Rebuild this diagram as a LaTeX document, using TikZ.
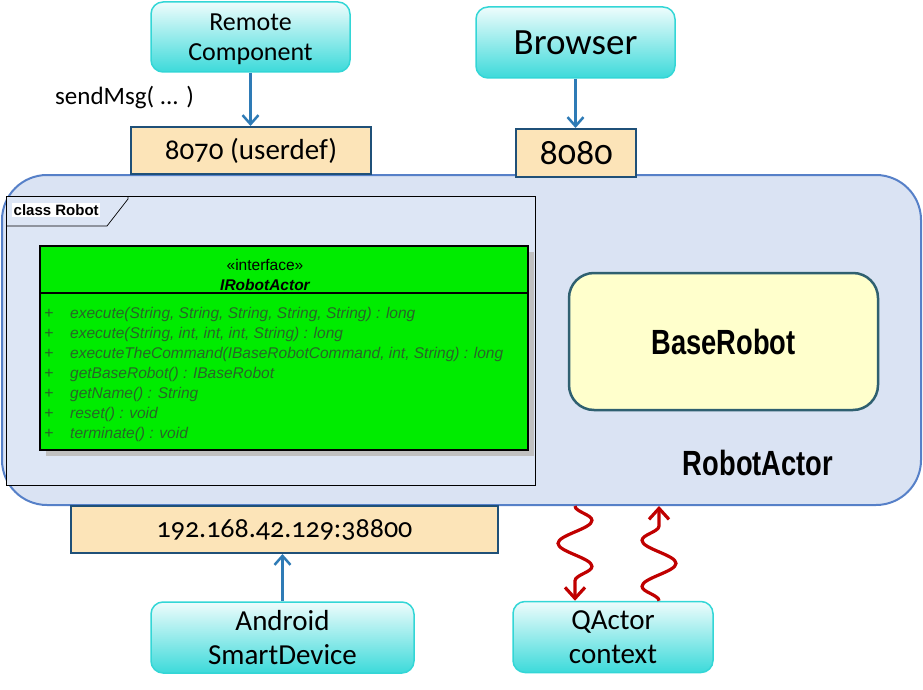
\documentclass[tikz,border=0pt]{standalone}
\usepackage{fontspec}
\setmainfont{Carlito}[Numbers=OldStyle]
\newfontfamily\umlfont{Liberation Sans}
\newfontfamily\condfont{Liberation Sans}[FakeStretch=0.78]
\usetikzlibrary{arrows.meta,decorations.pathmorphing}

\definecolor{cyanedge}{RGB}{51,214,214}
\definecolor{cyantop}{RGB}{238,252,252}
\definecolor{cyanbot}{RGB}{60,218,218}
\definecolor{portfill}{RGB}{252,228,184}
\definecolor{portedge}{RGB}{31,80,120}
\definecolor{arrowblue}{RGB}{46,123,182}
\definecolor{actorfill}{RGB}{218,227,243}
\definecolor{actoredge}{RGB}{86,128,200}
\definecolor{framefill}{RGB}{221,230,245}
\definecolor{basefill}{RGB}{255,255,204}
\definecolor{baseedge}{RGB}{47,96,112}
\definecolor{umlgreen}{RGB}{0,236,0}
\definecolor{umltext}{RGB}{40,100,40}
\definecolor{umlshadow}{RGB}{192,192,192}
\definecolor{wavered}{RGB}{192,0,0}

\begin{document}
\begin{tikzpicture}[x=1pt,y=-1pt,
  comp/.style={draw=cyanedge, line width=1.5pt, rounded corners=12pt,
    top color=cyantop, bottom color=cyanbot, align=center, inner sep=0pt},
  port/.style={draw=portedge, line width=2pt, fill=portfill, inner sep=0pt},
  blueline/.style={draw=arrowblue, line width=2.5pt,
    -{Straight Barb[length=9pt,width=16pt]}},
  wave/.style={draw=wavered, line width=3.2pt, decorate,
    decoration={snake, amplitude=17pt, segment length=46pt, post length=18pt},
    -{Straight Barb[length=11pt,width=20pt]}},
  umlline/.style={anchor=base west, inner sep=0pt, text=umltext,
    font=\umlfont\itshape\fontsize{15.5}{17}\selectfont},
  plus/.style={anchor=base, inner sep=0pt, text=umltext,
    font=\umlfont\fontsize{16}{17}\selectfont},
  bigbold/.style={inner sep=0pt, font=\condfont\bfseries\fontsize{35}{38}\selectfont}
]
\useasboundingbox (0,0) rectangle (923,690);

% RobotActor container
\node[draw=actoredge, fill=actorfill, line width=2pt, rounded corners=45pt,
  minimum width=919pt, minimum height=330pt, inner sep=0pt] (actor) at (461.5,340) {};

% class Robot frame
\node[draw=black, line width=0.8pt, fill=framefill, minimum width=529pt,
  minimum height=289pt, inner sep=0pt] (frame) at (270.5,340.5) {};
\node[fill=white, anchor=base west, inner sep=1.5pt,
  font=\umlfont\bfseries\fontsize{15}{17}\selectfont] (tab) at (12,215) {class Robot};
\draw[line width=0.7pt] (6,226) -- (107,226) -- (128,199) -- (128,196);

% interface box
\fill[umlshadow] (46,252) rectangle (534,456);
\node[draw=black, line width=1.5pt, fill=umlgreen, minimum width=488pt,
  minimum height=204pt, inner sep=0pt] (iface) at (284,348) {};
\draw[line width=1.5pt] (40,293) -- (528,293);
\node[anchor=base, inner sep=0pt, font=\umlfont\fontsize{15.5}{17}\selectfont]
  (stereo) at (265,270) {«interface»};
\node[anchor=base, inner sep=0pt, font=\umlfont\bfseries\itshape\fontsize{15.5}{17}\selectfont]
  (iname) at (265,290) {IRobotActor};
\foreach \i/\t in {0/{execute(String, String, String, String, String) : long},
  1/{execute(String, int, int, int, String) : long},
  2/{executeTheCommand(IBaseRobotCommand, int, String) : long},
  3/{getBaseRobot() : IBaseRobot},
  4/{getName() : String},
  5/{reset() : void},
  6/{terminate() : void}}{
  \node[plus] (p\i) at (49,318+20*\i) {+};
  \node[umlline] (m\i) at (70,318+20*\i) {\t};
}

% BaseRobot
\node[draw=baseedge, fill=basefill, line width=2.5pt, rounded corners=25pt,
  minimum width=309pt, minimum height=137pt, inner sep=0pt] (base) at (723.5,341.5) {};
\node[bigbold] (basetxt) at (723.5,342) {BaseRobot};
\node[bigbold] (actortxt) at (758,463) {RobotActor};

% ports
\node[port, minimum width=240pt, minimum height=47pt,
  font=\fontsize{29}{32}\selectfont] (p8070) at (251,150.5) {8070 (userdef)};
\node[port, minimum width=120pt, minimum height=48pt,
  font=\fontsize{36}{40}\selectfont] (p8080) at (576,153) {8080};
\node[port, minimum width=427pt, minimum height=47pt,
  font=\fontsize{28}{32}\selectfont] (pip) at (284.5,529.5) {192.168.42.129:38800};

% outer components
\node[comp, minimum width=199pt, minimum height=70pt] (remote) at (250.5,37) {};
\node[anchor=base, inner sep=0pt, align=center, font=\fontsize{26}{30}\selectfont]
  (remotetxt) at (250.5,61) {Remote\\Component};
\node[comp, minimum width=199pt, minimum height=71pt,
  font=\fontsize{37}{40}\selectfont] (browser) at (575.5,42.5) {Browser};
\node[comp, minimum width=263pt, minimum height=71pt,
  font=\fontsize{29}{34}\selectfont] (android) at (282.5,637.5) {Android\\SmartDevice};
\node[comp, minimum width=200pt, minimum height=71pt,
  font=\fontsize{29}{34}\selectfont] (qactor) at (613,637) {QActor\\context};

\node[anchor=base west, inner sep=0pt, font=\fontsize{25}{30}\selectfont]
  (sendmsg) at (55,105) {sendMsg( ... )};

% connectors
\draw[blueline] (remote.south) -- (remote.south |- p8070.north);
\draw[blueline] (browser.south) -- (browser.south |- p8080.north);
\draw[blueline] (android.north) -- (android.north |- pip.south);

\coordinate (w1) at (575,0);
\coordinate (w2) at (659,0);
\draw[wave] (actor.south -| w1) -- (w1 |- qactor.north);
\draw[wave] (qactor.north -| w2) -- (w2 |- actor.south);
\end{tikzpicture}
\end{document}
